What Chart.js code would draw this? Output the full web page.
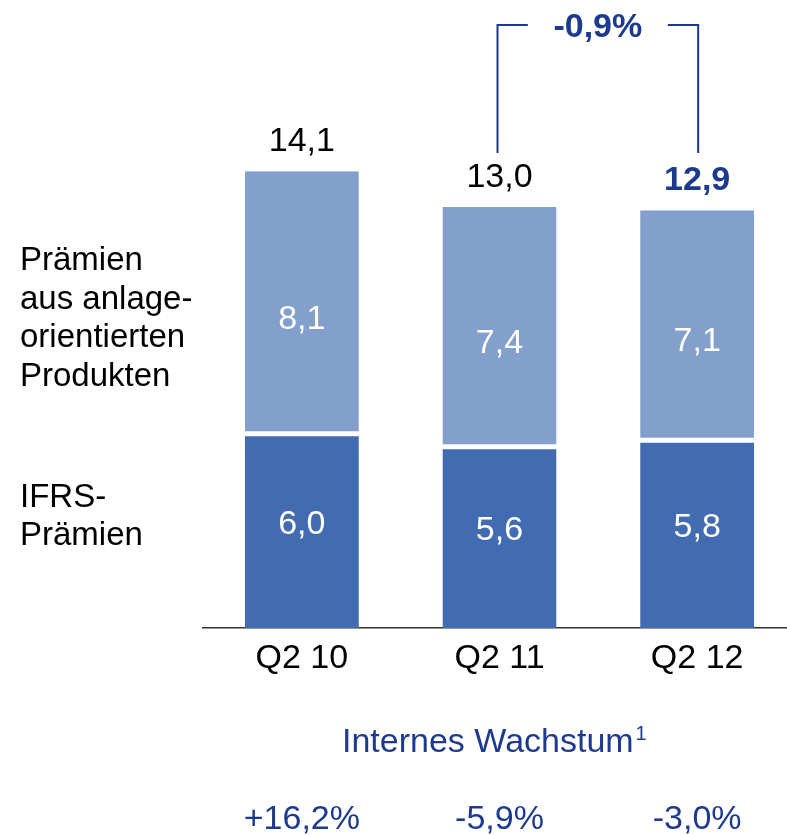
<!DOCTYPE html>
<html>
<head>
<meta charset="utf-8">
<script src="https://cdn.jsdelivr.net/npm/chart.js@4"></script>
<style>
  html, body { margin: 0; padding: 0; background: #fff; overflow: hidden; }
  #wrap { width: 800px; height: 835px; }
</style>
</head>
<body>
<div id="wrap"><canvas id="praemien"></canvas></div>
<script>
const quarters = ["Q2 10", "Q2 11", "Q2 12"];
const ifrsPraemien = [6.0, 5.6, 5.8];
const anlagePraemien = [8.1, 7.4, 7.1];
const totals = [14.1, 13.0, 12.9];
const wachstum = ["+16,2%", "-5,9%", "-3,0%"];
const veraenderung = "-0,9%";

const FONT = "'Liberation Sans', Arial, sans-serif";
const DARKBLUE = "#1d3a8f";
const fmt = v => v.toFixed(1).replace(".", ",");

const overlay = {
	id: "overlay",
	afterDatasetsDraw(chart) {
		const ctx = chart.ctx;
		const x = chart.scales.x, y = chart.scales.y;
		ctx.save();
		ctx.textBaseline = "alphabetic";

		// Werte in den Segmenten
		ctx.fillStyle = "#fff";
		ctx.textAlign = "center";
		ctx.font = "34px " + FONT;
		quarters.forEach((q, i) => {
			const cx = x.getPixelForValue(i);
			const base = y.getPixelForValue(0);
			const mid = y.getPixelForValue(ifrsPraemien[i]);
			const top = y.getPixelForValue(totals[i]);
			ctx.fillText(fmt(ifrsPraemien[i]), cx, (base + mid) / 2 - 9 + 12);
			ctx.fillText(fmt(anlagePraemien[i]), cx, (mid + top) / 2 + 14 + 12);
		});

		// Summen über den Balken
		quarters.forEach((q, i) => {
			const last = i === quarters.length - 1;
			ctx.fillStyle = last ? DARKBLUE : "#000";
			ctx.font = (last ? "bold " : "") + "34px " + FONT;
			ctx.fillText(fmt(totals[i]), x.getPixelForValue(i), y.getPixelForValue(totals[i]) - 20);
		});

		// Klammer mit Veränderung
		const x1 = x.getPixelForValue(1) - 2, x2 = x.getPixelForValue(2) + 1;
		const mx = (x1 + x2) / 2;
		ctx.strokeStyle = DARKBLUE;
		ctx.lineWidth = 2;
		ctx.beginPath();
		ctx.moveTo(x1, 153); ctx.lineTo(x1, 25); ctx.lineTo(mx - 70, 25);
		ctx.moveTo(mx + 70, 25); ctx.lineTo(x2, 25); ctx.lineTo(x2, 153);
		ctx.stroke();
		ctx.fillStyle = DARKBLUE;
		ctx.font = "bold 34px " + FONT;
		ctx.fillText(veraenderung, mx, 37);

		// Legende links
		ctx.fillStyle = "#000";
		ctx.textAlign = "left";
		ctx.font = "33px " + FONT;
		["Prämien", "aus anlage-", "orientierten", "Produkten"].forEach((t, k) => {
			ctx.fillText(t, 20, 270 + k * 38.5);
		});
		["IFRS-", "Prämien"].forEach((t, k) => {
			ctx.fillText(t, 20, 507 + k * 38);
		});

		// Internes Wachstum
		ctx.fillStyle = DARKBLUE;
		ctx.font = "34px " + FONT;
		const title = "Internes Wachstum";
		const tw = ctx.measureText(title).width;
		const tx = 342;
		ctx.fillText(title, tx, 752);
		ctx.font = "20px " + FONT;
		ctx.fillText("1", tx + tw + 2, 740);

		ctx.textAlign = "center";
		ctx.font = "34px " + FONT;
		wachstum.forEach((t, i) => {
			ctx.fillText(t, x.getPixelForValue(i), 829);
		});
		ctx.restore();
	}
};

new Chart(document.getElementById("praemien"), {
	type: "bar",
	data: {
		labels: quarters,
		datasets: [
			{
				label: "IFRS-Prämien",
				data: ifrsPraemien,
				backgroundColor: "#436bb2",
				borderColor: "#fff",
				borderWidth: { top: 2.5, bottom: 0, left: 0, right: 0 },
				borderSkipped: false
			},
			{
				label: "Prämien aus anlageorientierten Produkten",
				data: anlagePraemien,
				backgroundColor: "#839fcc",
				borderColor: "#fff",
				borderWidth: { top: 0, bottom: 2.5, left: 0, right: 0 },
				borderSkipped: false
			}
		]
	},
	options: {
		responsive: true,
		maintainAspectRatio: false,
		animation: false,
		layout: { padding: { left: 203, right: 4, top: 45, bottom: 146 } },
		datasets: { bar: { categoryPercentage: 1, barPercentage: 0.577 } },
		scales: {
			x: {
				stacked: true,
				grid: { display: false, drawTicks: false },
				border: { display: true, color: "#333", width: 1.5 },
				ticks: { color: "#000", font: { family: FONT, size: 34 }, padding: 10 }
			},
			y: { stacked: true, display: false, min: 0, max: 18 }
		},
		plugins: {
			legend: { display: false },
			tooltip: { enabled: false },
			title: { display: false }
		}
	},
	plugins: [overlay]
});
</script>
</body>
</html>
